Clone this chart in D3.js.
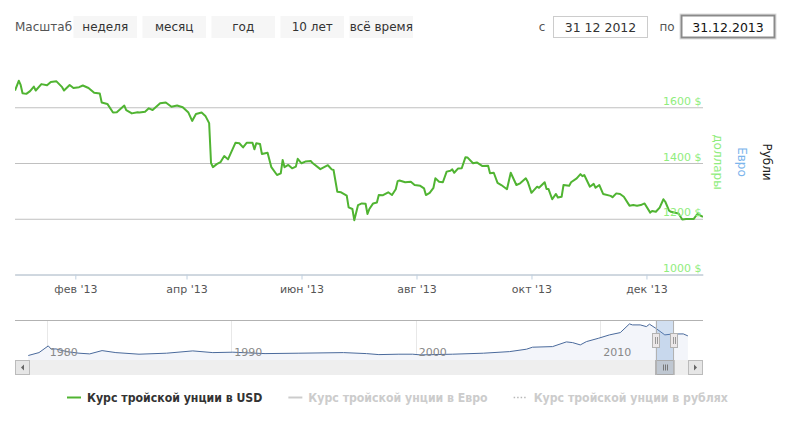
<!DOCTYPE html>
<html>
<head>
<meta charset="utf-8">
<script src="https://cdn.jsdelivr.net/npm/d3@7"></script>
<style>
  body { margin: 0; background: #fff; }
  svg { display: block; }
</style>
</head>
<body>
<svg id="chart" width="791" height="421"></svg>
<script>
// --- data ---
const usdDates = [
  "2012-12-31","2013-01-02","2013-01-03","2013-01-04","2013-01-06","2013-01-08","2013-01-10","2013-01-11",
  "2013-01-14","2013-01-17","2013-01-19","2013-01-22","2013-01-25","2013-01-26","2013-01-29","2013-01-31",
  "2013-02-03","2013-02-05","2013-02-08","2013-02-11","2013-02-14","2013-02-15","2013-02-18","2013-02-21",
  "2013-02-23","2013-02-27","2013-02-28","2013-03-03","2013-03-06","2013-03-07","2013-03-10","2013-03-12",
  "2013-03-14","2013-03-18","2013-03-21","2013-03-24","2013-03-27","2013-03-30","2013-04-02","2013-04-04",
  "2013-04-06","2013-04-09","2013-04-11","2013-04-13","2013-04-14","2013-04-15","2013-04-17","2013-04-19",
  "2013-04-21","2013-04-23","2013-04-27","2013-04-29","2013-05-01","2013-05-03","2013-05-06","2013-05-07",
  "2013-05-08","2013-05-10","2013-05-11","2013-05-14","2013-05-16","2013-05-19","2013-05-21","2013-05-22",
  "2013-05-23","2013-05-25","2013-05-27","2013-05-29","2013-05-30","2013-06-01","2013-06-03","2013-06-06",
  "2013-06-07","2013-06-11","2013-06-15","2013-06-17","2013-06-18","2013-06-20","2013-06-22","2013-06-25",
  "2013-06-26","2013-06-28","2013-06-29","2013-07-01","2013-07-03","2013-07-05","2013-07-06","2013-07-07",
  "2013-07-09","2013-07-11","2013-07-12","2013-07-14","2013-07-17","2013-07-19","2013-07-21","2013-07-22",
  "2013-07-23","2013-07-26","2013-07-29","2013-07-31","2013-08-03","2013-08-05","2013-08-06","2013-08-08",
  "2013-08-10","2013-08-11","2013-08-13","2013-08-15","2013-08-17","2013-08-19","2013-08-20","2013-08-21",
  "2013-08-23","2013-08-25","2013-08-27","2013-08-28","2013-08-31","2013-09-02","2013-09-05","2013-09-08",
  "2013-09-09","2013-09-11","2013-09-13","2013-09-15","2013-09-18","2013-09-20","2013-09-23","2013-09-25",
  "2013-09-28","2013-09-29","2013-10-01","2013-10-04","2013-10-05","2013-10-08","2013-10-09","2013-10-10",
  "2013-10-12","2013-10-14","2013-10-15","2013-10-17","2013-10-18","2013-10-21","2013-10-22","2013-10-25",
  "2013-10-27","2013-10-28","2013-10-29","2013-11-01","2013-11-03","2013-11-04","2013-11-06","2013-11-08",
  "2013-11-12","2013-11-13","2013-11-15","2013-11-17","2013-11-19","2013-11-22","2013-11-24","2013-11-26",
  "2013-11-28","2013-11-30","2013-12-03","2013-12-04","2013-12-06","2013-12-08","2013-12-10","2013-12-11",
  "2013-12-13","2013-12-14","2013-12-18","2013-12-20","2013-12-22","2013-12-26","2013-12-28","2013-12-31"
];
const usdValues = [
  1660,1695,1680,1650,1648,1658,1674,1660,
  1683,1679,1691,1693,1672,1660,1680,1669,
  1672,1678,1669,1652,1649,1617,1612,1581,
  1582,1606,1590,1578,1582,1581,1584,1596,
  1590,1614,1617,1602,1606,1600,1581,1551,
  1576,1581,1569,1543,1400,1385,1396,1403,
  1425,1413,1473,1471,1456,1473,1473,1449,
  1471,1468,1432,1437,1385,1357,1363,1411,
  1385,1393,1381,1387,1415,1399,1405,1407,
  1399,1378,1392,1377,1375,1297,1295,1283,
  1241,1235,1195,1249,1255,1254,1217,1235,
  1255,1258,1285,1284,1295,1285,1306,1335,
  1337,1331,1333,1321,1318,1309,1285,1293,
  1311,1345,1333,1331,1369,1372,1377,1365,
  1380,1381,1421,1420,1399,1402,1389,1390,
  1363,1365,1329,1321,1306,1365,1321,1327,
  1345,1333,1293,1315,1311,1331,1307,1307,
  1270,1289,1276,1279,1321,1318,1331,1345,
  1360,1353,1357,1315,1325,1311,1321,1289,
  1282,1277,1291,1289,1279,1247,1249,1247,
  1249,1255,1222,1228,1225,1240,1270,1261,
  1229,1225,1219,1197,1199,1199,1217,1207
];

// long history shown in the navigator
const navDates = [
  "1979-01","1979-08","1980-02","1980-04","1980-07","1981-02","1981-10","1982-05",
  "1983-01","1983-10","1985-01","1986-07","1987-12","1989-01","1990-02","1991-11",
  "1993-09","1996-02","1997-05","1998-01","1999-02","1999-11","2000-04","2002-01",
  "2003-09","2005-02","2006-01","2006-05","2007-06","2008-03","2008-07","2008-12",
  "2009-04","2009-12","2010-07","2011-02","2011-08","2011-10","2012-03","2012-07",
  "2012-09","2013-01","2013-07","2013-12","2014-07","2014-10"
];
const navValues = [
  225,370,705,540,555,420,340,305,
  470,370,290,340,455,370,390,320,
  340,370,320,270,290,290,255,290,
  340,420,540,640,670,905,870,755,
  920,1090,1255,1370,1805,1755,1755,1670,
  1790,1590,1255,1300,1305,1205
];
const navYears = [1980, 1990, 2000, 2010];

const yTicks = [1000, 1200, 1400, 1600];
const xTickDates = ["2013-02-01","2013-04-01","2013-06-01","2013-08-01","2013-10-01","2013-12-01"];
const monthNames = ["янв","фев","мар","апр","май","июн","июл","авг","сен","окт","ноя","дек"];
const axisTitles = ["доллары", "Евро", "Рубли"];
const rangeButtons = ["неделя", "месяц", "год", "10 лет", "всё время"];
const dateFrom = "31 12 2012";
const dateTo = "31.12.2013";
const legendLabels = ["Курс тройской унции в USD", "Курс тройской унции в Евро", "Курс тройской унции в рублях"];

// --- layout ---
const font = "'DejaVu Sans', Verdana, sans-serif";
const plot = {left: 15, right: 703, top: 51.5, bottom: 274.5};
const nav = {top: 320.5, bottom: 360, scrollBottom: 375};

const svg = d3.select("#chart").style("font-family", font);
const parseDay = d3.timeParse("%Y-%m-%d");
const parseMonth = d3.timeParse("%Y-%m");

const usd = usdDates.map((d, i) => ({date: parseDay(d), value: usdValues[i]}));
const hist = navDates.map((d, i) => ({date: parseMonth(d), value: navValues[i]}));

// scales
const x = d3.scaleTime()
  .domain([parseDay("2012-12-31"), parseDay("2013-12-31")])
  .range([plot.left, plot.right]);
const y = d3.scaleLinear().domain([1000, 1800]).range([plot.bottom, plot.top]);

// --- top controls ---
svg.append("text")
  .attr("x", 15).attr("y", 31)
  .attr("font-size", 12).attr("fill", "#555")
  .text("Масштаб");

const btn = svg.append("g").selectAll("g")
  .data(rangeButtons)
  .enter().append("g")
  .attr("transform", (d, i) => "translate(" + (73.5 + i * 69) + ",16)");
btn.append("rect")
  .attr("width", 63.5).attr("height", 22)
  .attr("fill", "#f6f6f6");
btn.append("text")
  .attr("x", 31.75).attr("y", 15)
  .attr("text-anchor", "middle")
  .attr("font-size", 12).attr("fill", "#333")
  .text(d => d);

svg.append("text").attr("x", 542).attr("y", 31).attr("text-anchor", "middle")
  .attr("font-size", 12).attr("fill", "#555").text("с");
svg.append("rect").attr("x", 553.5).attr("y", 16.5).attr("width", 94).attr("height", 21)
  .attr("fill", "#fff").attr("stroke", "#ccc");
svg.append("text").attr("x", 600.5).attr("y", 31.5).attr("text-anchor", "middle")
  .attr("font-size", 12.5).attr("fill", "#333").text(dateFrom);

svg.append("text").attr("x", 667).attr("y", 31).attr("text-anchor", "middle")
  .attr("font-size", 12).attr("fill", "#555").text("по");
svg.append("rect").attr("x", 680).attr("y", 14).attr("width", 96).attr("height", 25)
  .attr("fill", "none").attr("stroke", "#ddd").attr("stroke-width", 1);
svg.append("rect").attr("x", 681.5).attr("y", 15.5).attr("width", 93).attr("height", 22)
  .attr("fill", "#fff").attr("stroke", "#8a8a8a").attr("stroke-width", 2);
svg.append("text").attr("x", 728).attr("y", 31.5).attr("text-anchor", "middle")
  .attr("font-size", 12.5).attr("fill", "#111").text(dateTo);

// --- main chart ---
// grid lines
svg.append("g")
  .attr("transform", "translate(" + plot.left + ",0)")
  .call(d3.axisRight(y).tickValues(yTicks).tickSize(plot.right - plot.left).tickFormat(""))
  .call(g => g.select(".domain").remove())
  .call(g => g.selectAll("line").attr("stroke", "#c0c0c0"));

svg.append("defs").append("clipPath").attr("id", "plotClip")
  .append("rect")
  .attr("x", plot.left).attr("y", plot.top)
  .attr("width", plot.right - plot.left).attr("height", plot.bottom - plot.top);

const line = d3.line().x(d => x(d.date)).y(d => y(d.value));
svg.append("path")
  .datum(usd)
  .attr("clip-path", "url(#plotClip)")
  .attr("fill", "none")
  .attr("stroke", "#50b432")
  .attr("stroke-width", 2)
  .attr("stroke-linejoin", "round")
  .attr("d", line);

// x axis
const fmtYear = d3.timeFormat("%y");
svg.append("g")
  .attr("transform", "translate(0," + plot.bottom + ")")
  .call(d3.axisBottom(x)
    .tickValues(xTickDates.map(parseDay))
    .tickSize(5).tickSizeOuter(0).tickPadding(6)
    .tickFormat(d => monthNames[d.getMonth()] + " '" + fmtYear(d)))
  .call(g => g.select(".domain").attr("stroke", "#c0d0e0"))
  .call(g => g.selectAll(".tick line").attr("stroke", "#c0d0e0"))
  .call(g => g.selectAll("text").attr("fill", "#555").attr("font-size", 11).attr("font-family", font));

// y labels (on top of the line)
svg.append("g")
  .attr("transform", "translate(" + plot.right + ",0)")
  .call(d3.axisLeft(y).tickValues(yTicks).tickSize(0).tickPadding(1.5).tickFormat(d => d + " $"))
  .call(g => g.select(".domain").remove())
  .call(g => g.selectAll("text").attr("dy", -3).attr("fill", "#90ed7d")
    .attr("font-size", 11).attr("font-family", font));

// axis titles on the right
const titleColors = ["#90ed7d", "#7cb5ec", "#222"];
const titleX = [713.5, 737.5, 762.5];
svg.append("g").selectAll("text")
  .data(axisTitles)
  .enter().append("text")
  .attr("transform", (d, i) => "translate(" + titleX[i] + ",162) rotate(90)")
  .attr("text-anchor", "middle")
  .attr("font-size", 12)
  .attr("fill", (d, i) => titleColors[i])
  .text(d => d);

// --- navigator ---
const nx = d3.scaleTime()
  .domain([new Date(1980, 0, 1), new Date(2010, 0, 1)])
  .range([46.7, 600.3]);
const ny = d3.scaleLinear().domain([0, 1950]).range([nav.bottom, nav.top + 0.5]);

const navG = svg.append("g");
navG.selectAll(".yr")
  .data(navYears)
  .enter().append("line")
  .attr("x1", d => Math.round(nx(new Date(d, 0, 1))) + 0.5)
  .attr("x2", d => Math.round(nx(new Date(d, 0, 1))) + 0.5)
  .attr("y1", nav.top).attr("y2", nav.bottom)
  .attr("stroke", "#e8e8e8");

navG.append("path")
  .datum(hist)
  .attr("fill", "#f3f5fa")
  .attr("d", d3.area().x(d => nx(d.date)).y0(nav.bottom).y1(d => ny(d.value)));
navG.append("path")
  .datum(hist)
  .attr("fill", "none")
  .attr("stroke", "#4a6a9c")
  .attr("stroke-width", 1)
  .attr("d", d3.line().x(d => nx(d.date)).y(d => ny(d.value)));

navG.selectAll(".yrlab")
  .data(navYears)
  .enter().append("text")
  .attr("x", d => nx(new Date(d, 0, 1)) + 3)
  .attr("y", 355.5)
  .attr("font-size", 11)
  .attr("fill", "#888")
  .text(d => d);

// selected range
const selA = nx(parseDay("2013-01-01"));
const selB = nx(parseDay("2014-01-01"));
navG.append("rect")
  .attr("x", selA).attr("y", nav.top)
  .attr("width", selB - selA).attr("height", nav.bottom - nav.top)
  .attr("fill", "rgba(102,150,210,0.3)");

// scrollbar
navG.append("rect")
  .attr("x", plot.left).attr("y", nav.bottom)
  .attr("width", plot.right - plot.left).attr("height", nav.scrollBottom - nav.bottom)
  .attr("fill", "#eeeeee");
[[plot.left, -1], [plot.right - 15, 1]].forEach(([bx, dir]) => {
  navG.append("rect")
    .attr("x", bx + 0.5).attr("y", nav.bottom + 0.5)
    .attr("width", 14).attr("height", 14)
    .attr("fill", "#e6e6e6").attr("stroke", "#bbb");
  const cx = bx + 7.5, cy = nav.bottom + 7.5;
  navG.append("path")
    .attr("d", "M" + (cx - 1.5 * dir) + "," + (cy - 3) + "L" + (cx + 1.5 * dir) + "," + cy + "L" + (cx - 1.5 * dir) + "," + (cy + 3) + "Z")
    .attr("fill", "#666");
});
navG.append("rect")
  .attr("x", selA).attr("y", nav.bottom + 0.5)
  .attr("width", selB - selA).attr("height", 14)
  .attr("fill", "#bfc7d1").attr("stroke", "#aaa");
[-2, 0, 2].forEach(o => {
  const rx = Math.round((selA + selB) / 2 + o) + 0.5;
  navG.append("line")
    .attr("x1", rx).attr("x2", rx)
    .attr("y1", nav.bottom + 4.5).attr("y2", nav.bottom + 10.5)
    .attr("stroke", "#777");
});

// outline
navG.append("path")
  .attr("fill", "none").attr("stroke", "#b2b2b2")
  .attr("d", "M" + plot.left + "," + nav.top + "H" + plot.right
    + "M" + (Math.round(selA) + 0.5) + "," + nav.top + "V" + nav.scrollBottom
    + "M" + (Math.round(selB) - 0.5) + "," + nav.top + "V" + nav.scrollBottom);

// handles
[selA, selB].forEach(hx => {
  const h = navG.append("g").attr("transform", "translate(" + Math.round(hx) + ",333)");
  h.append("rect").attr("x", -3.5).attr("y", 0.5).attr("width", 7).attr("height", 14)
    .attr("fill", "#ebe7e8").attr("stroke", "#b2b2b2");
  [-1, 1].forEach(o => h.append("line")
    .attr("x1", o + 0.5).attr("x2", o + 0.5).attr("y1", 4).attr("y2", 11)
    .attr("stroke", "#999"));
});

// --- legend ---
const legendColors = ["#50b432", "#cccccc", "#b8b8b8"];
const legendText = ["#333", "#cccccc", "#cccccc"];
const legendDash = [null, null, "1.5,2"];
let lx = 67;
legendLabels.forEach((label, i) => {
  const g = svg.append("g").attr("transform", "translate(" + lx + ",397.5)");
  g.append("line")
    .attr("x1", 0).attr("x2", 14).attr("y1", 0).attr("y2", 0)
    .attr("stroke", legendColors[i])
    .attr("stroke-width", i === 2 ? 1.5 : 2)
    .attr("stroke-dasharray", legendDash[i]);
  const t = g.append("text")
    .attr("x", 20).attr("y", 4.5)
    .attr("font-family", "'DejaVu Sans Condensed', 'DejaVu Sans', sans-serif")
    .attr("font-weight", "bold")
    .attr("font-size", 12.2)
    .attr("fill", legendText[i])
    .text(label);
  lx += 20 + t.node().getComputedTextLength() + 26;
});
</script>
</body>
</html>
